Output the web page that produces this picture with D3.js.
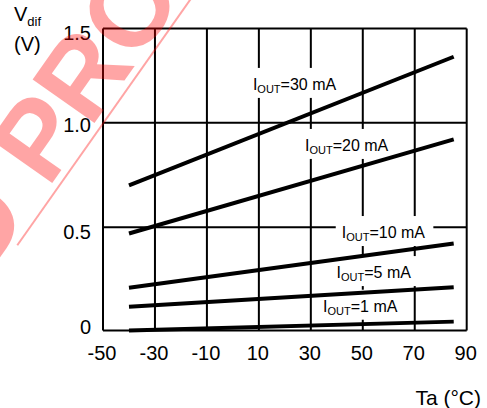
<!DOCTYPE html>
<html>
<head>
<meta charset="utf-8">
<script src="https://cdn.jsdelivr.net/npm/d3@7"></script>
<style>
  html, body { margin: 0; padding: 0; background: #fff; }
  svg { display: block; font-family: "Liberation Sans", Arial, Helvetica, sans-serif; }
</style>
</head>
<body>
<svg id="chart" width="487" height="408"></svg>
<script>
// ---- data ----
const temperatures = [-40, 85];                 // Ta (°C) at line ends
const currents = ["30", "20", "10", "5", "1"];  // I_OUT (mA)
const vdif30 = [0.70, 1.35];
const vdif20 = [0.47, 0.92];
const vdif10 = [0.207, 0.422];
const vdif5  = [0.115, 0.209];
const vdif1  = [0.0, 0.043];
const xTicks = [-50, -30, -10, 10, 30, 50, 70, 90];
const yTicks = [0, 0.5, 1.0, 1.5];
const yTickLabels = ["0", "0.5", "1.0", "1.5"];

const seriesValues = [vdif30, vdif20, vdif10, vdif5, vdif1];

// ---- layout ----
const svg = d3.select("#chart");
const L = 103, R = 466.7, T = 28.5, B = 330.5;

const x = d3.scaleLinear().domain([-50, 90]).range([L, R]);
// the reference grid is not evenly spaced; piecewise scale reproduces it
const y = d3.scaleLinear().domain([0, 0.5, 1.0, 1.5]).range([B, 227.3, 122.7, T]);

// grid
const grid = svg.append("g").attr("stroke", "#000").attr("stroke-width", 2);
grid.selectAll("line.v").data(xTicks).join("line")
  .attr("x1", d => x(d)).attr("x2", d => x(d))
  .attr("y1", T).attr("y2", B);
grid.selectAll("line.h").data(yTicks).join("line")
  .attr("x1", L).attr("x2", R)
  .attr("y1", d => y(d)).attr("y2", d => y(d));

// tick labels
svg.append("g").selectAll("text").data(xTicks).join("text")
  .attr("x", d => x(d) - 1).attr("y", 360)
  .attr("text-anchor", "middle").attr("font-size", 20).attr("fill", "#000")
  .text(d => d);
const yLabelDy = [3.5, 12, 9.5, 11.5];
svg.append("g").selectAll("text").data(yTicks).join("text")
  .attr("x", 91).attr("y", (d, i) => y(d) + yLabelDy[i])
  .attr("text-anchor", "end").attr("font-size", 20).attr("fill", "#000")
  .text((d, i) => yTickLabels[i]);

// axis titles
const yt = svg.append("text").attr("x", 14).attr("y", 21).attr("font-size", 20);
yt.append("tspan").text("V");
yt.append("tspan").attr("font-size", 13).attr("dy", 5).text("dif");
svg.append("text").attr("x", 14).attr("y", 51).attr("font-size", 20).text("(V)");
svg.append("text").attr("x", 481).attr("y", 405).attr("text-anchor", "end")
  .attr("font-size", 21).text("Ta (\u00B0C)");

// series labels (white background boxes then lines then text)
const labelAnchors = [[7.7, 1.174], [27.75, 0.865], [41.9, 0.448], [39.9, 0.254], [34.7, 0.091]];
const boxLayer = svg.append("g");
const lineLayer = svg.append("g");
const textLayer = svg.append("g");

currents.forEach((c, i) => {
  const t = textLayer.append("text")
    .attr("x", x(labelAnchors[i][0])).attr("y", y(labelAnchors[i][1]))
    .attr("font-size", 16).attr("fill", "#000");
  t.append("tspan").text("I");
  t.append("tspan").attr("font-size", 11).attr("dy", 3).text("OUT");
  t.append("tspan").attr("dy", -3).text("=" + c + " mA");
  const bb = t.node().getBBox();
  boxLayer.append("rect")
    .attr("x", bb.x - 6).attr("y", bb.y - 8)
    .attr("width", bb.width + 14).attr("height", bb.height + 11)
    .attr("fill", "#fff");
});

const line = d3.line().x((d, i) => x(temperatures[i])).y(d => y(d));
lineLayer.selectAll("path").data(seriesValues).join("path")
  .attr("d", d => line(d))
  .attr("fill", "none").attr("stroke", "#000").attr("stroke-width", 4);

// watermark
const ang = -54.85;
const rad = ang * Math.PI / 180;
const u = [Math.cos(rad), Math.sin(rad)];
const wm = svg.append("g").attr("opacity", 0.35);
wm.append("line").attr("x1", 190 - 300 * u[0]).attr("y1", 0 - 300 * u[1])
  .attr("x2", 190 + 50 * u[0]).attr("y2", 0 + 50 * u[1])
  .attr("stroke", "#f00").attr("stroke-width", 2);
const wt = wm.append("text").attr("font-size", 110).attr("font-weight", "bold")
  .attr("fill", "#f00").text("D PRODUCT");
const pre = wt.node().getSubStringLength(0, 2);
const p0 = [48, 189];
const s0 = [p0[0] - pre * u[0], p0[1] - pre * u[1]];
wt.attr("transform", `translate(${s0[0]},${s0[1]}) rotate(${ang})`);
</script>
</body>
</html>
